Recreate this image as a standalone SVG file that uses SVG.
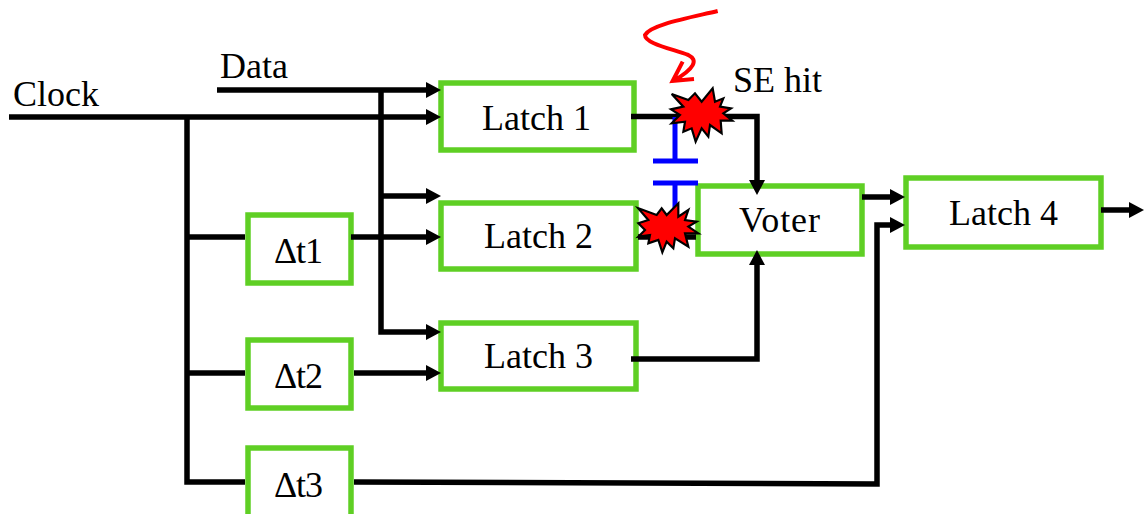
<svg xmlns="http://www.w3.org/2000/svg" width="1144" height="514" viewBox="0 0 1144 514">
<style>
.box{fill:#fff;stroke:#5fcf24;stroke-width:5.500}
.w{fill:none;stroke:#000;stroke-width:5.500}
.b{fill:none;stroke:#0000ff;stroke-width:5}
.t{font-family:"Liberation Serif","Times New Roman",serif;font-size:36px;fill:#000}
.star{fill:#ff0000;stroke:#000;stroke-width:6.500;stroke-linejoin:miter}
.hit{fill:none;stroke:#ff0000;stroke-width:12}
</style>
<defs>
<marker id="a" markerUnits="userSpaceOnUse" markerWidth="16" markerHeight="16" viewBox="0 0 16 16" refX="5" refY="8" orient="auto" overflow="visible">
<path d="M0 0L15 8L0 16Z" fill="#000"/>
</marker>
</defs>
<g id="latch1"><rect class="box" x="441" y="83" width="193" height="67"/><text class="t" x="482" y="130">Latch 1</text></g>
<g id="latch2"><rect class="box" x="441" y="203" width="195" height="66"/><text class="t" x="484" y="248">Latch 2</text></g>
<g id="latch3"><rect class="box" x="441" y="323" width="195" height="66"/><text class="t" x="484" y="368">Latch 3</text></g>
<g id="latch4"><rect class="box" x="906" y="178" width="195" height="69"/><text class="t" x="949" y="225">Latch 4</text></g>
<g id="voter"><rect class="box" x="698" y="186" width="164" height="68"/><text class="t" x="739" y="232" textLength="81">Voter</text></g>
<g id="dt1"><rect class="box" x="248" y="215" width="103" height="68"/><text class="t" x="274" y="263" textLength="49">Δt1</text></g>
<g id="dt2"><rect class="box" x="248" y="340" width="103" height="68"/><text class="t" x="274" y="388" textLength="49">Δt2</text></g>
<g id="dt3"><rect class="box" x="248" y="448" width="103" height="70"/><text class="t" x="274" y="497" textLength="49">Δt3</text></g>
<g id="connectors">
<path class="w" d="M217 90H431" marker-end="url(#a)"/>
<path class="w" d="M9 117H431" marker-end="url(#a)"/>
<path class="w" d="M187 117V482H245"/>
<path class="w" d="M187 237H245"/>
<path class="w" d="M187 373H245"/>
<path class="w" d="M381 90V332H431" marker-end="url(#a)"/>
<path class="w" d="M381 196H431" marker-end="url(#a)"/>
<path class="w" d="M351 237H431" marker-end="url(#a)"/>
<path class="w" d="M354 373H431" marker-end="url(#a)"/>
<path class="w" d="M354 482L877 484V225H895" marker-end="url(#a)"/>
<path class="w" d="M631 116.500H757V185" marker-end="url(#a)"/>
<path class="w" d="M631 359H757V260" marker-end="url(#a)"/>
<path class="w" d="M638 237H696"/>
<path class="w" d="M862 197H895" marker-end="url(#a)"/>
<path class="w" d="M1101 210H1134" marker-end="url(#a)"/>
</g>
<g id="coupling">
<path class="b" d="M675 117V161M653 161H698M653 183H698M675 183V212"/>
</g>
<g id="labels">
<text class="t" x="13" y="106">Clock</text>
<text class="t" x="220" y="78">Data</text>
<text class="t" x="733" y="92">SE hit</text>
</g>
<g id="se-hit" transform="translate(620 0) scale(.33333)">
<path class="hit" d="M293 33C200 55 90 75 75 105C75 130 150 145 205 165C235 180 225 205 160 243M188 185L158 243L222 237"/>
<polygon class="star" points="155,282 205,300 225,280 245,305 278,265 285,305 310,295 300,320 333,325 310,340 337,362 302,362 305,400 270,375 265,410 245,385 227,425 215,385 190,395 195,365 155,370 180,345 153,328 190,320"/>
<polygon class="star" points="55,625 110,645 125,625 140,645 175,610 175,650 205,630 195,660 230,665 205,680 235,700 195,700 205,740 165,715 160,745 140,725 127,757 115,720 85,730 90,705 55,710 75,690 55,670 85,660"/>
</g>
</svg>
